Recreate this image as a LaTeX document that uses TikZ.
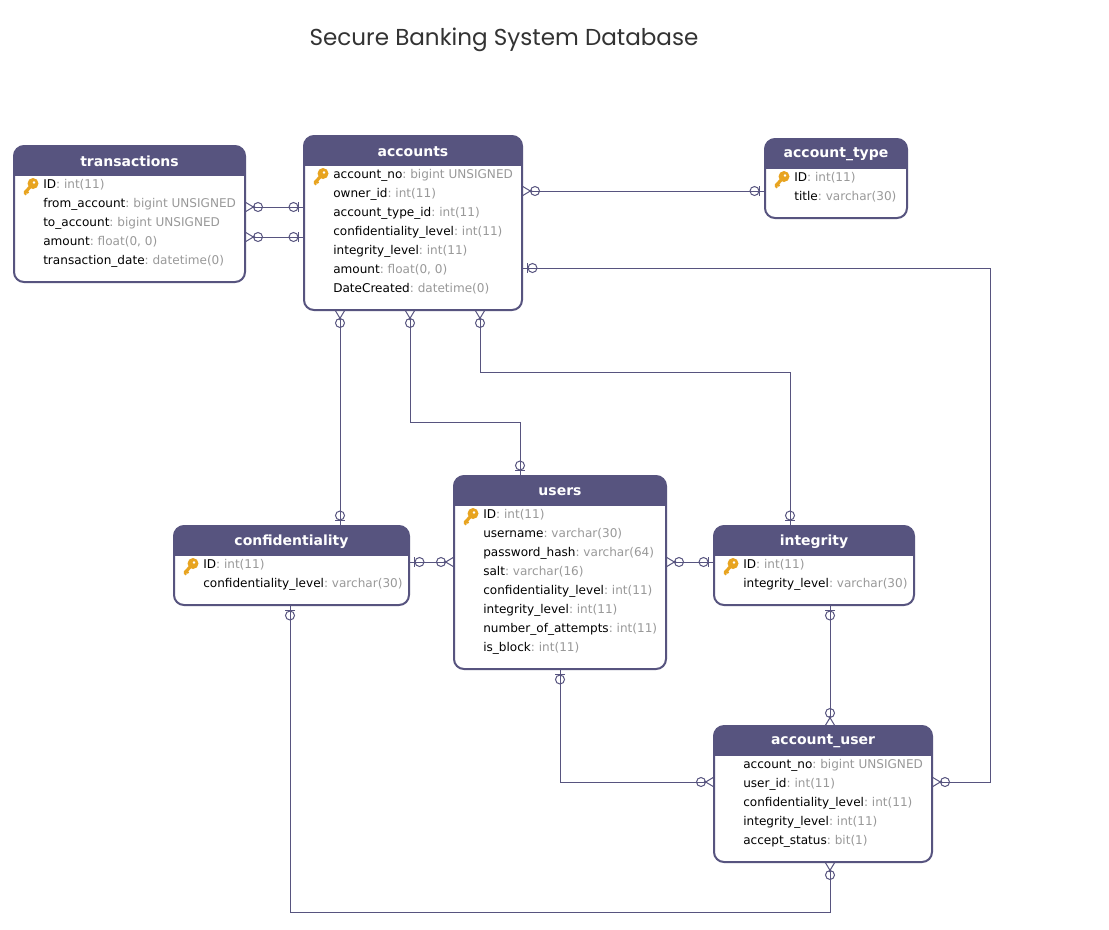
\documentclass[tikz,border=0pt]{standalone}
\usepackage{fontspec}
\setmainfont{DejaVu Sans}
\newfontfamily\titlefont{Poppins}
\usetikzlibrary{calc}
\definecolor{erblue}{HTML}{57547F}
\definecolor{ergrey}{HTML}{999999}
\definecolor{erkey}{HTML}{E8A420}
\definecolor{ertitle}{HTML}{333333}
\tikzset{
  tblbox/.style={draw=erblue,line width=1.5pt,rounded corners=7.5pt,fill=white,inner sep=0pt,outer sep=0pt},
  tbltitle/.style={text=white,font=\fontsize{10.5pt}{12pt}\bfseries\selectfont,inner sep=0pt},
  tblrow/.style={anchor=base west,inner sep=0pt,font=\fontsize{9.05pt}{11pt}\selectfont\frenchspacing},
  conn/.style={draw=erblue,line width=.75pt},
  fromM/.style={shorten <=6pt},
  toM/.style={shorten >=6pt},
  many/.pic={
    \draw[conn] (0,-5) -- (10,1);
    \draw[conn] (0,5) -- (10,-1);
    \draw[conn] (13,0) circle[radius=4.5];
  },
  one/.pic={
    \draw[conn] (5.5,-5) -- (5.5,5);
    \draw[conn] (10.5,0) circle[radius=4.5];
  },
  erkeypic/.pic={
    \fill[erkey,even odd rule] (3,-4) circle[radius=5.5] (4,-5) circle[radius=1.7];
    \draw[erkey,line width=2.4pt,line cap=round] (1,-1.5) -- (-5,5);
    \draw[erkey,line width=1.5pt] (-3.5,3.5) -- (-1.6,5.6);
    \draw[erkey,line width=1.5pt] (-5.5,5.5) -- (-3.8,7.2);
  }
}
\newcommand{\ertable}[6]{%
  \pgfmathsetmacro{\erw}{(#4-#2)*0.75}%
  \pgfmathsetmacro{\erh}{(#5-#3)*0.75}%
  \node[tblbox,minimum width=\erw pt,minimum height=\erh pt,
    path picture={\fill[erblue,sharp corners] (path picture bounding box.north west) rectangle ([yshift=-22.5pt]path picture bounding box.north east);}]
    (#1) at ({(#2+#4)/2},{(#3+#5)/2}) {};
  \node[tbltitle] (#1-title) at ({(#2+#4)/2},{#3+15.5}) {#6};
}
\newcommand{\errows}[4]{%
  \foreach \c/\t [count=\i from 0] in {#4} {
    \node[tblrow] (#1-r\i) at ({#2+29},{#3+42+19*\i}) {\c\textcolor{ergrey}{: \t}};
  }
}
\begin{document}
\begin{tikzpicture}[x=.75pt,y=-.75pt]
\useasboundingbox (0,0) rectangle (1109,929);
\fill[white] (0,0) rectangle (1109,929);
\node[font=\titlefont\fontsize{17.3pt}{22pt}\selectfont,text=ertitle,inner sep=0pt] (title) at (504,40) {Secure Banking System Database};

% tables
\ertable{transactions}{14}{146}{245}{282}{transactions}
\errows{transactions}{14}{146}{ID/int(11),from\_account/bigint UNSIGNED,to\_account/bigint UNSIGNED,{amount/float(0, 0)},transaction\_date/datetime(0)}
\ertable{accounts}{304}{136}{522}{310}{accounts}
\errows{accounts}{304}{136}{account\_no/bigint UNSIGNED,owner\_id/int(11),account\_type\_id/int(11),confidentiality\_level/int(11),integrity\_level/int(11),{amount/float(0, 0)},DateCreated/datetime(0)}
\ertable{accounttype}{765}{139}{907}{218}{account\_type}
\errows{accounttype}{765}{139}{ID/int(11),title/varchar(30)}
\ertable{confidentiality}{174}{526}{409}{605}{confidentiality}
\errows{confidentiality}{174}{526}{ID/int(11),confidentiality\_level/varchar(30)}
\ertable{users}{454}{476}{666}{669}{users}
\errows{users}{454}{476}{ID/int(11),username/varchar(30),password\_hash/varchar(64),salt/varchar(16),confidentiality\_level/int(11),integrity\_level/int(11),number\_of\_attempts/int(11),is\_block/int(11)}
\ertable{integrity}{714}{526}{914}{605}{integrity}
\errows{integrity}{714}{526}{ID/int(11),integrity\_level/varchar(30)}
\ertable{accountuser}{714}{726}{932}{862}{account\_user}
\errows{accountuser}{714}{726}{account\_no/bigint UNSIGNED,user\_id/int(11),confidentiality\_level/int(11),integrity\_level/int(11),accept\_status/bit(1)}

% keys
\pic at (30,187.5) {erkeypic};
\pic at (320,177.5) {erkeypic};
\pic at (781,180.5) {erkeypic};
\pic at (190,567.5) {erkeypic};
\pic at (470,517.5) {erkeypic};
\pic at (730,567.5) {erkeypic};

% connectors
\draw[conn,fromM] (transactions.east |- 0,207) -- (accounts.west |- 0,207);
\pic at (transactions.east |- 0,207) {many};
\pic[rotate=180] at (accounts.west |- 0,207) {one};

\draw[conn,fromM] (transactions.east |- 0,237) -- (accounts.west |- 0,237);
\pic at (transactions.east |- 0,237) {many};
\pic[rotate=180] at (accounts.west |- 0,237) {one};

\draw[conn,fromM] (accounts.east |- 0,191) -- (accounttype.west |- 0,191);
\pic at (accounts.east |- 0,191) {many};
\pic[rotate=180] at (accounttype.west |- 0,191) {one};

\draw[conn,toM] (accounts.east |- 0,268) -- (990,268) -- (990,782) -- (accountuser.east |- 0,782);
\pic at (accounts.east |- 0,268) {one};
\pic at (accountuser.east |- 0,782) {many};

\draw[conn,fromM] (accounts.south -| 340,0) -- (confidentiality.north -| 340,0);
\pic[rotate=270] at (accounts.south -| 340,0) {many};
\pic[rotate=90] at (confidentiality.north -| 340,0) {one};

\draw[conn,fromM] (accounts.south -| 410,0) -- (410,422) -- (520,422) -- (users.north -| 520,0);
\pic[rotate=270] at (accounts.south -| 410,0) {many};
\pic[rotate=90] at (users.north -| 520,0) {one};

\draw[conn,fromM] (accounts.south -| 480,0) -- (480,372) -- (790,372) -- (integrity.north -| 790,0);
\pic[rotate=270] at (accounts.south -| 480,0) {many};
\pic[rotate=90] at (integrity.north -| 790,0) {one};

\draw[conn,toM] (confidentiality.east |- 0,562) -- (users.west |- 0,562);
\pic at (confidentiality.east |- 0,562) {one};
\pic[rotate=180] at (users.west |- 0,562) {many};

\draw[conn,fromM] (users.east |- 0,562) -- (integrity.west |- 0,562);
\pic at (users.east |- 0,562) {many};
\pic[rotate=180] at (integrity.west |- 0,562) {one};

\draw[conn,toM] (users.south -| 560,0) -- (560,782) -- (accountuser.west |- 0,782);
\pic[rotate=270] at (users.south -| 560,0) {one};
\pic[rotate=180] at (accountuser.west |- 0,782) {many};

\draw[conn,toM] (integrity.south -| 830,0) -- (accountuser.north -| 830,0);
\pic[rotate=270] at (integrity.south -| 830,0) {one};
\pic[rotate=90] at (accountuser.north -| 830,0) {many};

\draw[conn,toM] (confidentiality.south -| 290,0) -- (290,912) -- (830,912) -- (accountuser.south -| 830,0);
\pic[rotate=270] at (confidentiality.south -| 290,0) {one};
\pic[rotate=270] at (accountuser.south -| 830,0) {many};
\end{tikzpicture}
\end{document}
